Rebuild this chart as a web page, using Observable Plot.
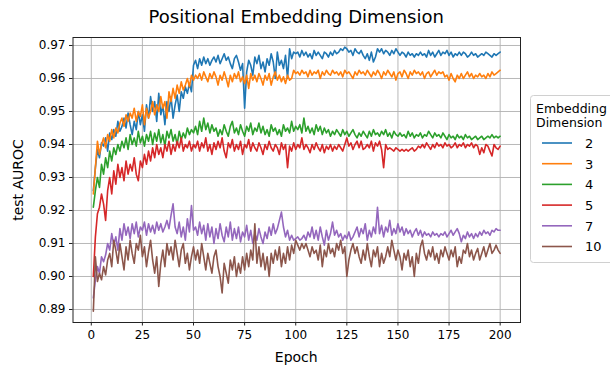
<!DOCTYPE html>
<html>
<head>
<meta charset="utf-8">
<script src="https://cdn.jsdelivr.net/npm/d3@7"></script>
<script src="https://cdn.jsdelivr.net/npm/@observablehq/plot@0.6"></script>
<style>
  html, body { margin: 0; padding: 0; background: #fff; }
  body { width: 610px; height: 366px; overflow: hidden; font-family: "DejaVu Sans", sans-serif; }
  #wrap { position: relative; width: 610px; height: 366px; }
  #wrap svg.plot { position: absolute; left: 0; top: 0; }
  .lbl { position: absolute; color: #000; white-space: nowrap; font-family: "DejaVu Sans", sans-serif; line-height: 1; }
  #legend { position: absolute; left: 0; top: 0; }
</style>
</head>
<body>
<div id="wrap"></div>
<script>
const title = "Positional Embedding Dimension";
const xLabel = "Epoch";
const yLabel = "test AUROC";
const legendTitle = ["Embedding", "Dimension"];
const seriesNames = ["2", "3", "4", "5", "7", "10"];
const seriesColors = ["#1f77b4", "#ff7f0e", "#2ca02c", "#d62728", "#9467bd", "#8c564b"];
const xTicks = [0, 25, 50, 75, 100, 125, 150, 175, 200];
const yTicks = [0.89, 0.90, 0.91, 0.92, 0.93, 0.94, 0.95, 0.96, 0.97];

const dim2 = [
0.9260,0.9330,0.9385,0.9360,0.9405,0.9395,0.9420,0.9380,0.9435,0.9415,
0.9445,0.9425,0.9470,0.9440,0.9455,0.9480,0.9450,0.9495,0.9460,0.9430,
0.9470,0.9445,0.9500,0.9460,0.9490,0.9440,0.9520,0.9480,0.9545,0.9500,
0.9530,0.9470,0.9555,0.9490,0.9520,0.9460,0.9530,0.9500,0.9545,0.9480,
0.9520,0.9550,0.9500,0.9560,0.9540,0.9575,0.9555,0.9585,0.9560,0.9640,
0.9655,0.9630,0.9660,0.9640,0.9665,0.9645,0.9660,0.9640,0.9655,0.9665,
0.9650,0.9670,0.9645,0.9660,0.9675,0.9655,0.9665,0.9645,0.9630,0.9660,
0.9670,0.9650,0.9625,0.9645,0.9510,0.9620,0.9655,0.9640,0.9610,0.9665,
0.9645,0.9670,0.9630,0.9650,0.9620,0.9660,0.9640,0.9675,0.9650,0.9600,
0.9680,0.9640,0.9655,0.9630,0.9670,0.9600,0.9690,0.9660,0.9680,0.9675,
0.9680,0.9665,0.9685,0.9670,0.9680,0.9665,0.9675,0.9660,0.9685,0.9670,
0.9680,0.9670,0.9660,0.9680,0.9675,0.9665,0.9680,0.9670,0.9685,0.9675,
0.9680,0.9690,0.9685,0.9695,0.9690,0.9680,0.9685,0.9670,0.9690,0.9680,
0.9675,0.9685,0.9670,0.9660,0.9675,0.9655,0.9680,0.9650,0.9665,0.9690,
0.9680,0.9690,0.9675,0.9685,0.9680,0.9670,0.9685,0.9675,0.9690,0.9680,
0.9670,0.9680,0.9675,0.9665,0.9680,0.9670,0.9675,0.9665,0.9675,0.9670,
0.9680,0.9670,0.9675,0.9665,0.9685,0.9670,0.9680,0.9665,0.9675,0.9685,
0.9670,0.9680,0.9675,0.9685,0.9670,0.9680,0.9665,0.9675,0.9670,0.9680,
0.9670,0.9680,0.9675,0.9665,0.9670,0.9680,0.9670,0.9675,0.9665,0.9670,
0.9675,0.9670,0.9680,0.9675,0.9670,0.9665,0.9675,0.9670,0.9675,0.9680];

const dim3 = [
0.9250,0.9330,0.9410,0.9370,0.9400,0.9420,0.9390,0.9430,0.9410,0.9445,
0.9420,0.9450,0.9435,0.9465,0.9480,0.9455,0.9490,0.9470,0.9495,0.9480,
0.9510,0.9470,0.9500,0.9485,0.9520,0.9460,0.9510,0.9480,0.9500,0.9530,
0.9490,0.9520,0.9500,0.9545,0.9510,0.9530,0.9480,0.9560,0.9530,0.9570,
0.9540,0.9580,0.9555,0.9590,0.9565,0.9580,0.9600,0.9575,0.9610,0.9595,
0.9610,0.9600,0.9615,0.9595,0.9620,0.9605,0.9590,0.9615,0.9600,0.9620,
0.9605,0.9580,0.9610,0.9595,0.9620,0.9600,0.9575,0.9610,0.9590,0.9615,
0.9600,0.9620,0.9590,0.9605,0.9585,0.9610,0.9570,0.9615,0.9595,0.9610,
0.9590,0.9615,0.9600,0.9580,0.9610,0.9595,0.9615,0.9580,0.9605,0.9620,
0.9595,0.9610,0.9590,0.9605,0.9585,0.9610,0.9595,0.9600,0.9625,0.9615,
0.9620,0.9610,0.9625,0.9615,0.9620,0.9605,0.9625,0.9610,0.9620,0.9615,
0.9625,0.9600,0.9620,0.9610,0.9625,0.9615,0.9610,0.9625,0.9615,0.9620,
0.9610,0.9620,0.9605,0.9625,0.9615,0.9620,0.9610,0.9600,0.9620,0.9610,
0.9625,0.9615,0.9620,0.9610,0.9625,0.9615,0.9605,0.9620,0.9610,0.9625,
0.9615,0.9600,0.9620,0.9610,0.9625,0.9615,0.9605,0.9620,0.9595,0.9615,
0.9620,0.9605,0.9625,0.9615,0.9600,0.9620,0.9610,0.9625,0.9615,0.9620,
0.9610,0.9620,0.9600,0.9615,0.9620,0.9605,0.9615,0.9625,0.9610,0.9620,
0.9615,0.9620,0.9605,0.9610,0.9595,0.9615,0.9600,0.9590,0.9610,0.9600,
0.9615,0.9600,0.9610,0.9620,0.9605,0.9615,0.9600,0.9610,0.9605,0.9615,
0.9605,0.9610,0.9600,0.9615,0.9605,0.9620,0.9610,0.9615,0.9620,0.9625];

const dim4 = [
0.9210,0.9260,0.9300,0.9270,0.9340,0.9310,0.9360,0.9330,0.9380,0.9350,
0.9390,0.9370,0.9400,0.9380,0.9410,0.9390,0.9420,0.9385,0.9430,0.9400,
0.9420,0.9395,0.9440,0.9405,0.9425,0.9395,0.9430,0.9410,0.9440,0.9400,
0.9435,0.9410,0.9445,0.9405,0.9430,0.9395,0.9440,0.9420,0.9445,0.9410,
0.9430,0.9400,0.9440,0.9415,0.9435,0.9420,0.9450,0.9430,0.9445,0.9435,
0.9455,0.9430,0.9470,0.9440,0.9480,0.9445,0.9465,0.9435,0.9460,0.9440,
0.9450,0.9425,0.9445,0.9430,0.9460,0.9440,0.9425,0.9455,0.9470,0.9435,
0.9450,0.9430,0.9460,0.9440,0.9425,0.9455,0.9440,0.9465,0.9430,0.9450,
0.9440,0.9465,0.9435,0.9455,0.9430,0.9445,0.9425,0.9460,0.9440,0.9450,
0.9430,0.9445,0.9425,0.9460,0.9440,0.9450,0.9435,0.9470,0.9440,0.9455,
0.9445,0.9460,0.9435,0.9480,0.9440,0.9455,0.9435,0.9450,0.9430,0.9460,
0.9440,0.9455,0.9430,0.9450,0.9435,0.9445,0.9425,0.9440,0.9430,0.9445,
0.9435,0.9425,0.9445,0.9430,0.9440,0.9425,0.9435,0.9445,0.9430,0.9420,
0.9435,0.9425,0.9440,0.9430,0.9420,0.9440,0.9425,0.9445,0.9430,0.9435,
0.9425,0.9440,0.9430,0.9445,0.9425,0.9435,0.9420,0.9440,0.9430,0.9425,
0.9435,0.9425,0.9430,0.9420,0.9440,0.9425,0.9435,0.9420,0.9430,0.9425,
0.9435,0.9420,0.9430,0.9425,0.9440,0.9430,0.9420,0.9435,0.9425,0.9430,
0.9420,0.9435,0.9425,0.9415,0.9430,0.9420,0.9425,0.9415,0.9430,0.9420,
0.9425,0.9415,0.9430,0.9420,0.9425,0.9415,0.9420,0.9425,0.9415,0.9420,
0.9425,0.9415,0.9420,0.9425,0.9420,0.9430,0.9420,0.9425,0.9420,0.9425];

const dim5 = [
0.9000,0.9120,0.9190,0.9210,0.9250,0.9220,0.9170,0.9260,0.9300,0.9250,
0.9320,0.9280,0.9340,0.9300,0.9330,0.9290,0.9350,0.9310,0.9340,0.9320,
0.9360,0.9310,0.9290,0.9350,0.9330,0.9370,0.9340,0.9380,0.9350,0.9390,
0.9360,0.9400,0.9370,0.9390,0.9360,0.9400,0.9380,0.9410,0.9370,0.9400,
0.9380,0.9410,0.9390,0.9420,0.9380,0.9400,0.9390,0.9410,0.9380,0.9400,
0.9390,0.9410,0.9380,0.9405,0.9390,0.9420,0.9380,0.9400,0.9370,0.9405,
0.9385,0.9410,0.9390,0.9420,0.9380,0.9360,0.9405,0.9390,0.9415,0.9380,
0.9400,0.9385,0.9410,0.9370,0.9400,0.9390,0.9415,0.9380,0.9405,0.9390,
0.9380,0.9405,0.9390,0.9370,0.9400,0.9385,0.9410,0.9390,0.9380,0.9400,
0.9390,0.9370,0.9405,0.9385,0.9400,0.9330,0.9395,0.9380,0.9405,0.9385,
0.9400,0.9390,0.9420,0.9385,0.9400,0.9390,0.9375,0.9400,0.9385,0.9405,
0.9390,0.9380,0.9400,0.9375,0.9395,0.9385,0.9400,0.9380,0.9395,0.9385,
0.9400,0.9390,0.9380,0.9400,0.9420,0.9395,0.9405,0.9385,0.9400,0.9410,
0.9390,0.9410,0.9385,0.9390,0.9400,0.9390,0.9410,0.9380,0.9405,0.9395,
0.9410,0.9385,0.9330,0.9400,0.9385,0.9390,0.9385,0.9380,0.9390,0.9385,
0.9380,0.9385,0.9380,0.9385,0.9380,0.9385,0.9390,0.9380,0.9385,0.9395,
0.9390,0.9400,0.9390,0.9405,0.9395,0.9385,0.9400,0.9390,0.9405,0.9395,
0.9400,0.9390,0.9405,0.9395,0.9400,0.9390,0.9395,0.9405,0.9390,0.9400,
0.9395,0.9405,0.9390,0.9400,0.9395,0.9405,0.9390,0.9400,0.9395,0.9370,
0.9390,0.9375,0.9400,0.9395,0.9380,0.9365,0.9400,0.9390,0.9385,0.9395];

const dim7 = [
0.8935,0.8990,0.9030,0.9010,0.9060,0.9045,0.9065,0.9100,0.9080,0.9130,
0.9095,0.9120,0.9080,0.9145,0.9110,0.9160,0.9125,0.9150,0.9115,0.9160,
0.9130,0.9165,0.9120,0.9150,0.9140,0.9165,0.9125,0.9160,0.9135,0.9155,
0.9130,0.9165,0.9140,0.9160,0.9135,0.9150,0.9170,0.9145,0.9185,0.9220,
0.9150,0.9130,0.9165,0.9120,0.9150,0.9110,0.9175,0.9135,0.9215,0.9140,
0.9150,0.9125,0.9165,0.9130,0.9155,0.9110,0.9160,0.9120,0.9150,0.9100,
0.9145,0.9115,0.9160,0.9125,0.9105,0.9150,0.9120,0.9165,0.9110,0.9145,
0.9115,0.9150,0.9105,0.9135,0.9120,0.9155,0.9110,0.9140,0.9100,0.9130,
0.9110,0.9145,0.9120,0.9100,0.9135,0.9115,0.9150,0.9125,0.9160,0.9130,
0.9145,0.9170,0.9195,0.9150,0.9120,0.9140,0.9110,0.9125,0.9110,0.9115,
0.9120,0.9110,0.9115,0.9125,0.9110,0.9135,0.9120,0.9150,0.9115,0.9140,
0.9110,0.9150,0.9120,0.9095,0.9140,0.9110,0.9130,0.9165,0.9125,0.9140,
0.9120,0.9130,0.9110,0.9125,0.9115,0.9135,0.9110,0.9120,0.9135,0.9150,
0.9120,0.9145,0.9130,0.9160,0.9110,0.9140,0.9120,0.9150,0.9130,0.9210,
0.9130,0.9155,0.9120,0.9150,0.9135,0.9170,0.9125,0.9145,0.9130,0.9160,
0.9135,0.9150,0.9125,0.9145,0.9130,0.9140,0.9120,0.9135,0.9145,0.9125,
0.9140,0.9120,0.9135,0.9125,0.9130,0.9120,0.9135,0.9125,0.9130,0.9120,
0.9130,0.9125,0.9135,0.9120,0.9130,0.9140,0.9125,0.9135,0.9145,0.9130,
0.9105,0.9125,0.9115,0.9135,0.9120,0.9130,0.9115,0.9130,0.9120,0.9135,
0.9125,0.9140,0.9130,0.9135,0.9125,0.9140,0.9135,0.9145,0.9140,0.9140];

const dim10 = [
0.8895,0.9060,0.8985,0.9010,0.8990,0.9030,0.9005,0.9050,0.9070,0.9030,
0.9110,0.9080,0.9040,0.9100,0.9060,0.9020,0.9090,0.9050,0.9110,0.9070,
0.9040,0.9100,0.9080,0.9125,0.9060,0.9090,0.9030,0.9075,0.9110,0.9050,
0.9010,0.9060,0.8970,0.9040,0.9080,0.9030,0.9100,0.9065,0.9090,0.9050,
0.9110,0.9070,0.9030,0.9080,0.9100,0.9040,0.9070,0.9020,0.9060,0.9090,
0.9050,0.9080,0.9040,0.9100,0.9060,0.9020,0.9070,0.9040,0.9010,0.9060,
0.9080,0.9030,0.9000,0.8950,0.9040,0.9010,0.8980,0.9050,0.9020,0.9060,
0.9000,0.9040,0.9010,0.9060,0.9020,0.9070,0.9030,0.9080,0.9050,0.9160,
0.9040,0.9090,0.9030,0.9070,0.9020,0.9060,0.9000,0.9070,0.9040,0.9080,
0.9050,0.9090,0.9030,0.9070,0.9040,0.9090,0.9050,0.9095,0.9070,0.9110,
0.9095,0.9080,0.9100,0.9085,0.9100,0.9080,0.9060,0.9090,0.9070,0.9080,
0.9050,0.9095,0.9030,0.9080,0.9060,0.9100,0.9070,0.9085,0.9060,0.9100,
0.9080,0.9110,0.9070,0.9090,0.9000,0.9050,0.9080,0.9100,0.9070,0.9090,
0.9060,0.9040,0.9080,0.9050,0.9100,0.9060,0.9030,0.9080,0.9060,0.9090,
0.9030,0.9070,0.9040,0.9060,0.9090,0.9060,0.9110,0.9080,0.9050,0.9080,
0.9060,0.9020,0.9070,0.9050,0.9080,0.9030,0.9060,0.9000,0.9070,0.9040,
0.9090,0.9110,0.9070,0.9050,0.9080,0.9060,0.9090,0.9050,0.9070,0.9040,
0.9080,0.9060,0.9090,0.9070,0.9050,0.9080,0.9060,0.9090,0.9030,0.9060,
0.9040,0.9080,0.9070,0.9100,0.9060,0.9080,0.9050,0.9070,0.9085,0.9050,
0.9070,0.9090,0.9060,0.9080,0.9100,0.9070,0.9080,0.9095,0.9080,0.9070];

const seriesValues = [dim2, dim3, dim4, dim5, dim7, dim10];

const rows = [];
seriesNames.forEach((name, s) => {
  seriesValues[s].forEach((v, i) => rows.push({epoch: i + 1, auroc: v, dim: name}));
});

const W = 610, H = 366;
const mL = 72.5, mR = 90, mT = 37, mB = 44;

const chart = Plot.plot({
  width: W,
  height: H,
  marginLeft: mL,
  marginRight: mR,
  marginTop: mT,
  marginBottom: mB,
  style: {fontFamily: "DejaVu Sans, sans-serif", fontSize: "12px", color: "#000", background: "#fff"},
  x: {domain: [-8.95, 209.95], label: null},
  y: {domain: [0.88606, 0.97242], label: null},
  color: {domain: seriesNames, range: seriesColors},
  marks: [
    Plot.gridX(xTicks, {stroke: "#b0b0b0", strokeOpacity: 1, strokeWidth: 0.9}),
    Plot.gridY(yTicks, {stroke: "#b0b0b0", strokeOpacity: 1, strokeWidth: 0.9}),
    Plot.line(rows, {x: "epoch", y: "auroc", z: "dim", stroke: "dim", strokeWidth: 1.6, strokeLinejoin: "round"}),
    Plot.frame({stroke: "#222", strokeWidth: 1}),
    Plot.axisX({ticks: xTicks, tickSize: 3.5, tickPadding: 4.5, tickFormat: d3.format("d"), fontSize: 12, label: null, stroke: "#222"}),
    Plot.axisY({ticks: yTicks, tickSize: 3.5, tickPadding: 4, tickFormat: d3.format(".2f"), fontSize: 12, label: null, stroke: "#222"})
  ]
});
chart.classList.add("plot");

const wrap = document.getElementById("wrap");
wrap.appendChild(chart);

const plotCx = mL + (W - mL - mR) / 2;

function addLabel(text, css) {
  const d = document.createElement("div");
  d.className = "lbl";
  d.textContent = text;
  Object.assign(d.style, css);
  wrap.appendChild(d);
  return d;
}

addLabel(title, {fontSize: "18px", top: "8px", left: plotCx + "px", transform: "translateX(-50%)"});
addLabel(xLabel, {fontSize: "14px", top: "350px", left: plotCx + "px", transform: "translateX(-50%)"});
addLabel(yLabel, {fontSize: "14px", left: "18px", top: ((mT + H - mB) / 2) + "px", transform: "translate(-50%, -50%) rotate(-90deg)"});

// legend
const lg = d3.select(wrap).append("svg")
  .attr("id", "legend")
  .attr("width", W).attr("height", H)
  .style("font-family", "DejaVu Sans, sans-serif");
lg.append("rect")
  .attr("x", 530.5).attr("y", 95.5).attr("width", 100).attr("height", 167)
  .attr("rx", 3).attr("fill", "#fff").attr("stroke", "#d0d0d0").attr("stroke-width", 1);
legendTitle.forEach((line, i) => {
  lg.append("text").attr("x", 536).attr("y", 112.5 + i * 14)
    .attr("font-size", 12.5).attr("fill", "#000").text(line);
});
seriesNames.forEach((name, i) => {
  const y = 143 + i * 20.7;
  lg.append("line").attr("x1", 542).attr("x2", 572).attr("y1", y).attr("y2", y)
    .attr("stroke", seriesColors[i]).attr("stroke-width", 1.6);
  lg.append("text").attr("x", 585).attr("y", y + 4.8)
    .attr("font-size", 13).attr("fill", "#000").text(name);
});
</script>
</body>
</html>
